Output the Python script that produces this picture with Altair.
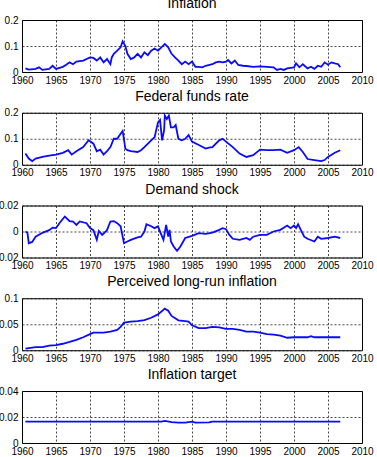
import altair as alt
import pandas as pd

# --- Inflation ---
infl_year = [1960.5, 1961, 1962, 1962.5, 1963, 1964, 1964.5, 1965, 1966, 1966.5, 1967, 1967.5,
             1968, 1969, 1970, 1970.5, 1971, 1971.5, 1972, 1972.5, 1973, 1973.2, 1973.5, 1974,
             1974.5, 1974.8, 1975.2, 1975.5, 1976, 1976.5, 1977, 1977.5, 1978, 1978.5, 1979,
             1979.5, 1980, 1980.5, 1981, 1981.5, 1982, 1982.5, 1983, 1983.5, 1984, 1984.5, 1985,
             1985.5, 1986, 1986.5, 1987, 1988, 1988.5, 1989, 1989.5, 1990, 1990.3, 1990.8,
             1991.3, 1991.8, 1992.5, 1993, 1994, 1995, 1996, 1997, 1997.5, 1998, 1998.5, 1999,
             2000, 2000.3, 2000.8, 2001.3, 2002, 2002.5, 2003, 2003.5, 2004, 2004.5, 2005,
             2005.5, 2006, 2006.5, 2006.8]
infl_val = [0.014, 0.009, 0.012, 0.018, 0.008, 0.012, 0.024, 0.012, 0.020, 0.028, 0.037, 0.030,
            0.040, 0.044, 0.056, 0.054, 0.044, 0.056, 0.037, 0.050, 0.030, 0.056, 0.070, 0.082,
            0.095, 0.118, 0.100, 0.070, 0.050, 0.056, 0.070, 0.056, 0.076, 0.065, 0.082,
            0.090, 0.082, 0.095, 0.108, 0.095, 0.070, 0.056, 0.044, 0.030, 0.040, 0.030, 0.040,
            0.020, 0.020, 0.018, 0.024, 0.030, 0.037, 0.040, 0.037, 0.040, 0.046, 0.033,
            0.044, 0.027, 0.024, 0.023, 0.020, 0.022, 0.020, 0.018, 0.008, 0.012, 0.008, 0.014,
            0.018, 0.033, 0.018, 0.030, 0.014, 0.020, 0.012, 0.024, 0.020, 0.037, 0.028,
            0.037, 0.033, 0.030, 0.018]

# --- Federal funds rate ---
ffr_year = [1960.5, 1961, 1961.5, 1962, 1963, 1964, 1965, 1966, 1966.8, 1967.3, 1968, 1969,
            1969.8, 1970.5, 1971, 1971.5, 1972, 1972.5, 1973, 1973.5, 1974, 1974.5, 1974.8,
            1975.2, 1975.5, 1976, 1977, 1977.5, 1978, 1979, 1979.5, 1980, 1980.3, 1980.6,
            1980.9, 1981, 1981.3, 1981.6, 1981.9, 1982.3, 1982.6, 1983, 1983.5, 1984, 1984.5,
            1985, 1986, 1987, 1987.5, 1988, 1989, 1989.5, 1990, 1991, 1992, 1993, 1994, 1995,
            1996, 1997, 1998, 1999, 2000, 2000.7, 2001.3, 2002, 2003, 2004, 2004.5, 2005, 2006,
            2006.8]
ffr_val = [0.043, 0.024, 0.014, 0.024, 0.030, 0.035, 0.039, 0.046, 0.056, 0.039, 0.052, 0.068,
           0.094, 0.081, 0.052, 0.058, 0.039, 0.052, 0.068, 0.100, 0.100, 0.119, 0.130,
           0.062, 0.056, 0.052, 0.049, 0.056, 0.068, 0.094, 0.106, 0.163, 0.172, 0.094,
           0.133, 0.189, 0.176, 0.189, 0.144, 0.144, 0.153, 0.100, 0.094, 0.100, 0.114,
           0.089, 0.076, 0.062, 0.066, 0.068, 0.094, 0.100, 0.089, 0.068, 0.043, 0.030, 0.037,
           0.058, 0.056, 0.056, 0.058, 0.046, 0.056, 0.068, 0.049, 0.022, 0.018, 0.014, 0.018,
           0.030, 0.046, 0.056]

# --- Demand shock ---
dem_year = [1960.5, 1960.8, 1961, 1961.5, 1962, 1963, 1964, 1964.5, 1965, 1965.5, 1966.3, 1967,
            1967.5, 1968, 1968.5, 1969.5, 1970, 1970.5, 1971, 1971.3, 1971.8, 1972.5, 1973,
            1973.5, 1974, 1974.5, 1975, 1975.5, 1976, 1977, 1977.5, 1978, 1978.3, 1979, 1979.5,
            1980, 1980.5, 1980.8, 1981.2, 1981.5, 1981.7, 1981.9, 1982.3, 1982.8, 1983.3, 1984,
            1985, 1986, 1987, 1988, 1989, 1989.5, 1990, 1990.5, 1991, 1992, 1993, 1993.5, 1994,
            1995, 1996, 1997, 1998, 1999, 1999.5, 2000, 2000.3, 2000.6, 2001, 2001.5, 2002,
            2003, 2003.5, 2004, 2005, 2006, 2006.8]
dem_val = [0.0, -0.001, -0.009, -0.008, -0.004, -0.001, 0.001, 0.003, 0.0026, 0.0064, 0.0115,
           0.008, 0.0077, 0.005, 0.0077, 0.0064, 0.0026, 0.001, -0.0064, 0.0005, -0.0026, 0.001,
           0.0077, 0.008, 0.0064, 0.004, -0.009, -0.0077, -0.0064, -0.0046, -0.004, 0.0, 0.0056,
           0.004, 0.0026, 0.004, -0.0026, -0.0064, 0.005, -0.004, 0.0013, -0.0077, -0.0115,
           -0.0149, -0.0115, -0.005, -0.0033, -0.0013, -0.0018, -0.0008, 0.0013, 0.0026, 0.0018,
           -0.0026, -0.0056, -0.0064, -0.005, -0.0064, -0.004, -0.0026, -0.0026, 0.0, 0.0013,
           0.0046, 0.0026, 0.0046, 0.0026, 0.0056, 0.0013, -0.004, -0.0056, -0.0077, -0.004,
           -0.0056, -0.005, -0.004, -0.005]

# --- Perceived long-run inflation ---
plr_year = [1960.5, 1962, 1963, 1964, 1965, 1966, 1967, 1968, 1969, 1970, 1970.5, 1972, 1973,
            1974, 1974.5, 1975, 1976, 1977, 1978, 1979, 1980, 1981, 1981.5, 1982, 1983, 1984,
            1984.5, 1985, 1986, 1987, 1988, 1989, 1990, 1991, 1992, 1993, 1994, 1995, 1996,
            1997, 1998, 1999, 2000, 2001, 2002, 2002.5, 2003, 2006.8]
plr_val = [0.003, 0.006, 0.006, 0.009, 0.010, 0.0125, 0.016, 0.020, 0.025, 0.031, 0.034, 0.034,
           0.036, 0.039, 0.045, 0.053, 0.055, 0.056, 0.058, 0.0625, 0.069, 0.080, 0.076, 0.066,
           0.0575, 0.056, 0.055, 0.048, 0.0425, 0.0425, 0.045, 0.044, 0.041, 0.041, 0.039,
           0.036, 0.036, 0.034, 0.031, 0.030, 0.028, 0.024, 0.025, 0.025, 0.025, 0.027, 0.025,
           0.025]

# --- Inflation target ---
tgt_year = [1960.5, 1980.5, 1981, 1982, 1983, 1984, 1985, 1985.5, 1987.5, 1988, 2006.8]
tgt_val = [0.0164, 0.0164, 0.0170, 0.0160, 0.0156, 0.0156, 0.0164, 0.0156, 0.0159, 0.0164, 0.0164]

year_ticks = list(range(1960, 2011, 5))

FONT_TICK = "Liberation Sans Narrow, Liberation Sans, Arial, sans-serif"
FONT_TITLE = "Liberation Sans, Arial, sans-serif"


def panel(title, years, values, ymin, ymax):
    df = pd.DataFrame({"year": years, "value": values})
    ymid = (ymin + ymax) / 2
    return (
        alt.Chart(df)
        .mark_line(color="#0a0aff", strokeWidth=1.8)
        .encode(
            x=alt.X(
                "year:Q",
                title=None,
                scale=alt.Scale(domain=[1960, 2010], nice=False, zero=False),
                axis=alt.Axis(values=year_ticks, format="d"),
            ),
            y=alt.Y(
                "value:Q",
                title=None,
                scale=alt.Scale(domain=[ymin, ymax], nice=False, zero=False),
                axis=alt.Axis(values=[ymin, ymid, ymax], labelExpr="format(datum.value, '~g')"),
            ),
        )
        .properties(width=340, height=52, title=title)
    )


chart = alt.vconcat(
    panel("Inflation", infl_year, infl_val, 0, 0.2),
    panel("Federal funds rate", ffr_year, ffr_val, 0, 0.2),
    panel("Demand shock", dem_year, dem_val, -0.02, 0.02),
    panel("Perceived long-run inflation", plr_year, plr_val, 0, 0.1),
    panel("Inflation target", tgt_year, tgt_val, 0, 0.04),
    spacing=2.75,
).properties(
    autosize=alt.AutoSizeParams(type="none"),
    padding={"left": 22, "top": 20, "right": 15, "bottom": 437},
).configure_view(
    stroke="#000000", strokeWidth=1
).configure_axis(
    grid=True,
    gridColor="#000000",
    gridDash=[2, 2],
    gridWidth=0.8,
    gridOpacity=0.9,
    domain=False,
    ticks=False,
    labelFont=FONT_TICK,
    labelFontSize=10,
    labelColor="#000000",
    labelPadding=4,
    labelFlush=False,
    labelOverlap=False,
).configure_axisX(
    labelPadding=3,
).configure_title(
    font=FONT_TITLE,
    fontSize=14,
    fontWeight="normal",
    color="#000000",
    offset=4,
)

chart.save("out.html", embed_options={"renderer": "svg", "actions": False})
